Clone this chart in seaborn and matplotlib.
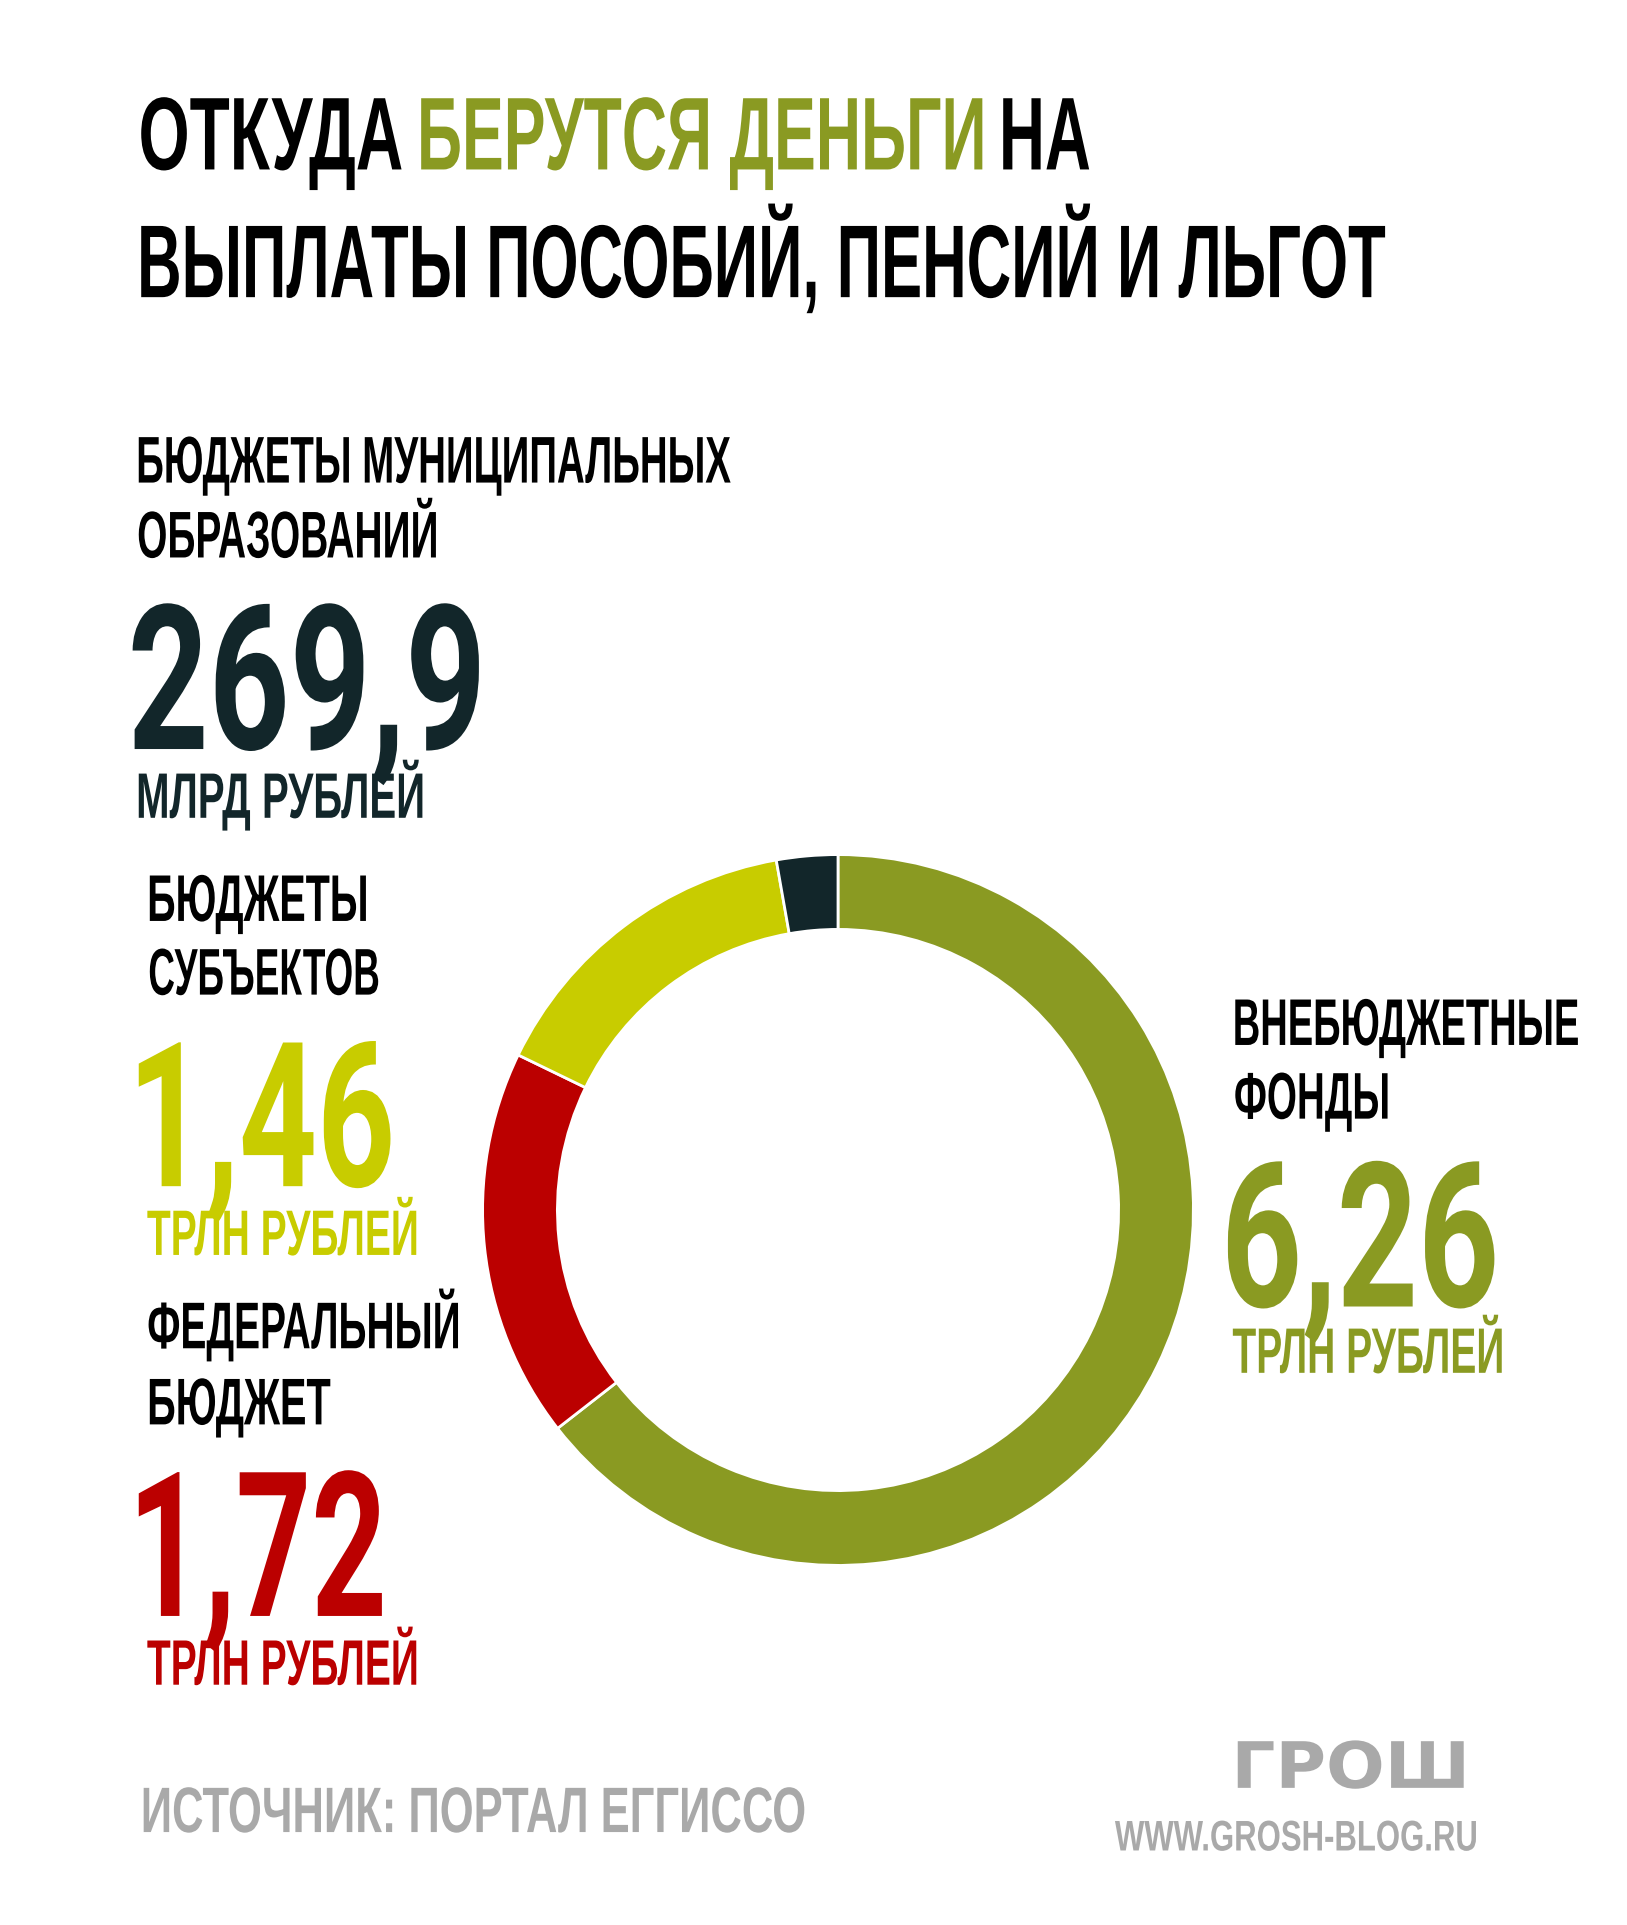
import matplotlib
matplotlib.use("Agg")
import matplotlib.pyplot as plt
import seaborn as sns
from matplotlib.font_manager import FontProperties
from matplotlib.patheffects import AbstractPathEffect
from matplotlib.textpath import TextPath
from matplotlib.transforms import Affine2D

# trillion rubles, clockwise from the top
source_names = ["Внебюджетные фонды", "Федеральный бюджет", "Бюджеты субъектов", "Бюджеты муниципальных образований"]
source_values = [6.26, 1.72, 1.46, 0.2699]
value_labels = ["6,26", "1,72", "1,46", "269,9"]
unit_labels = ["ТРЛН РУБЛЕЙ", "ТРЛН РУБЛЕЙ", "ТРЛН РУБЛЕЙ", "МЛРД РУБЛЕЙ"]

W, H = 1627, 1925
DPI = 100
S = 1627 / 1325  # the positions below were read at 1325 px wide

sns.set_theme(style="white")
palette = sns.color_palette(["#8a9a22", "#bb0000", "#c8cc00", "#12262a"])
GREY = "#a9a9a9"
BLACK = "#000000"
NARROW = ("Liberation Sans Narrow", "Liberation Sans")

fig = plt.figure(figsize=(W / DPI, H / DPI), dpi=DPI, facecolor="white")


class Tall(AbstractPathEffect):
    # the reference font is far more condensed than anything installed,
    # so the size is set from the width and the glyphs are pulled up from the baseline
    def __init__(self, sy):
        super().__init__()
        self.sy = sy

    def draw_path(self, renderer, gc, tpath, affine, rgbFace=None):
        y0 = affine.get_matrix()[1, 2]
        tall = affine + Affine2D().translate(0, -y0).scale(1, self.sy).translate(0, y0)
        renderer.draw_path(gc, tpath, tall, rgbFace)


def put(s, x0, x1, base, cap, color, family=NARROW, weight="bold"):
    # x0, x1, base, cap are measured on the 1325 px wide picture
    fp = FontProperties(family=list(family), weight=weight)
    ext = TextPath((0, 0), s, size=100, prop=fp).get_extents()
    size = 100 * ((x1 - x0) * S) * 72 / DPI / ext.width
    cap_now = TextPath((0, 0), "Н", size=size, prop=fp).get_extents().height * DPI / 72
    sy = cap * S / cap_now
    x_px = x0 * S - ext.x0 * size / 100 * DPI / 72
    fp.set_size(size)
    t = fig.text(x_px / W, 1 - base * S / H, s, color=color, fontproperties=fp, ha="left", va="baseline")
    t.set_path_effects([Tall(sy)])
    return t


def big(s, x0, x1, base, color):
    return put(s, x0, x1, base, 117, color, family=("Roboto", "Liberation Sans"), weight=700)


# title
put("ОТКУДА", 115, 327, 138, 58, BLACK)
put("БЕРУТСЯ ДЕНЬГИ", 343, 800, 138, 58, palette[0])
put("НА", 817, 887, 138, 58, BLACK)
put("ВЫПЛАТЫ ПОСОБИЙ, ПЕНСИЙ И ЛЬГОТ", 115, 1128, 242, 58, BLACK)

# municipal
put("БЮДЖЕТЫ МУНИЦИПАЛЬНЫХ", 113, 595, 393, 37, BLACK)
put("ОБРАЗОВАНИЙ", 113, 355, 454, 37, BLACK)
big(value_labels[3], 108, 390, 610, palette[3])
put(unit_labels[3], 113, 344, 666, 36, palette[3])

# regions
put("БЮДЖЕТЫ", 122, 298, 750, 37, BLACK)
put("СУБЪЕКТОВ", 122, 308, 810, 37, BLACK)
big(value_labels[2], 113, 318, 966, palette[2])
put(unit_labels[2], 120, 339, 1022, 36, palette[2])

# federal
put("ФЕДЕРАЛЬНЫЙ", 121, 373, 1098, 37, BLACK)
put("БЮДЖЕТ", 122, 269, 1160, 37, BLACK)
big(value_labels[1], 113, 311, 1316, palette[1])
put(unit_labels[1], 120, 339, 1372, 36, palette[1])

# off-budget funds
put("ВНЕБЮДЖЕТНЫЕ", 1006, 1285, 851, 37, BLACK)
put("ФОНДЫ", 1006, 1130, 911, 37, BLACK)
big(value_labels[0], 1000, 1217, 1064, palette[0])
put(unit_labels[0], 1004, 1223, 1118, 36, palette[0])

# footer
put("ИСТОЧНИК: ПОРТАЛ ЕГГИССО", 117, 655, 1492, 36, GREY)
put("ГРОШ", 1008, 1192, 1456, 38, GREY, family=("DejaVu Sans",))
put("WWW.GROSH-BLOG.RU", 908, 1202, 1507, 24, GREY)

# donut
cx, cy, r_out, r_in = 838, 1210, 355.4, 280.6
margin = 1.02
side = 2 * r_out * margin
ax = fig.add_axes([(cx - side / 2) / W, 1 - (cy + side / 2) / H, side / W, side / H])
ax.pie(
    source_values,
    colors=palette,
    startangle=90,
    counterclock=False,
    radius=1,
    wedgeprops={"width": 1 - r_in / r_out, "edgecolor": "white", "linewidth": 2},
)
ax.set_xlim(-margin, margin)
ax.set_ylim(-margin, margin)
ax.set_axis_off()

fig.savefig("out.png", dpi=DPI, facecolor="white")
